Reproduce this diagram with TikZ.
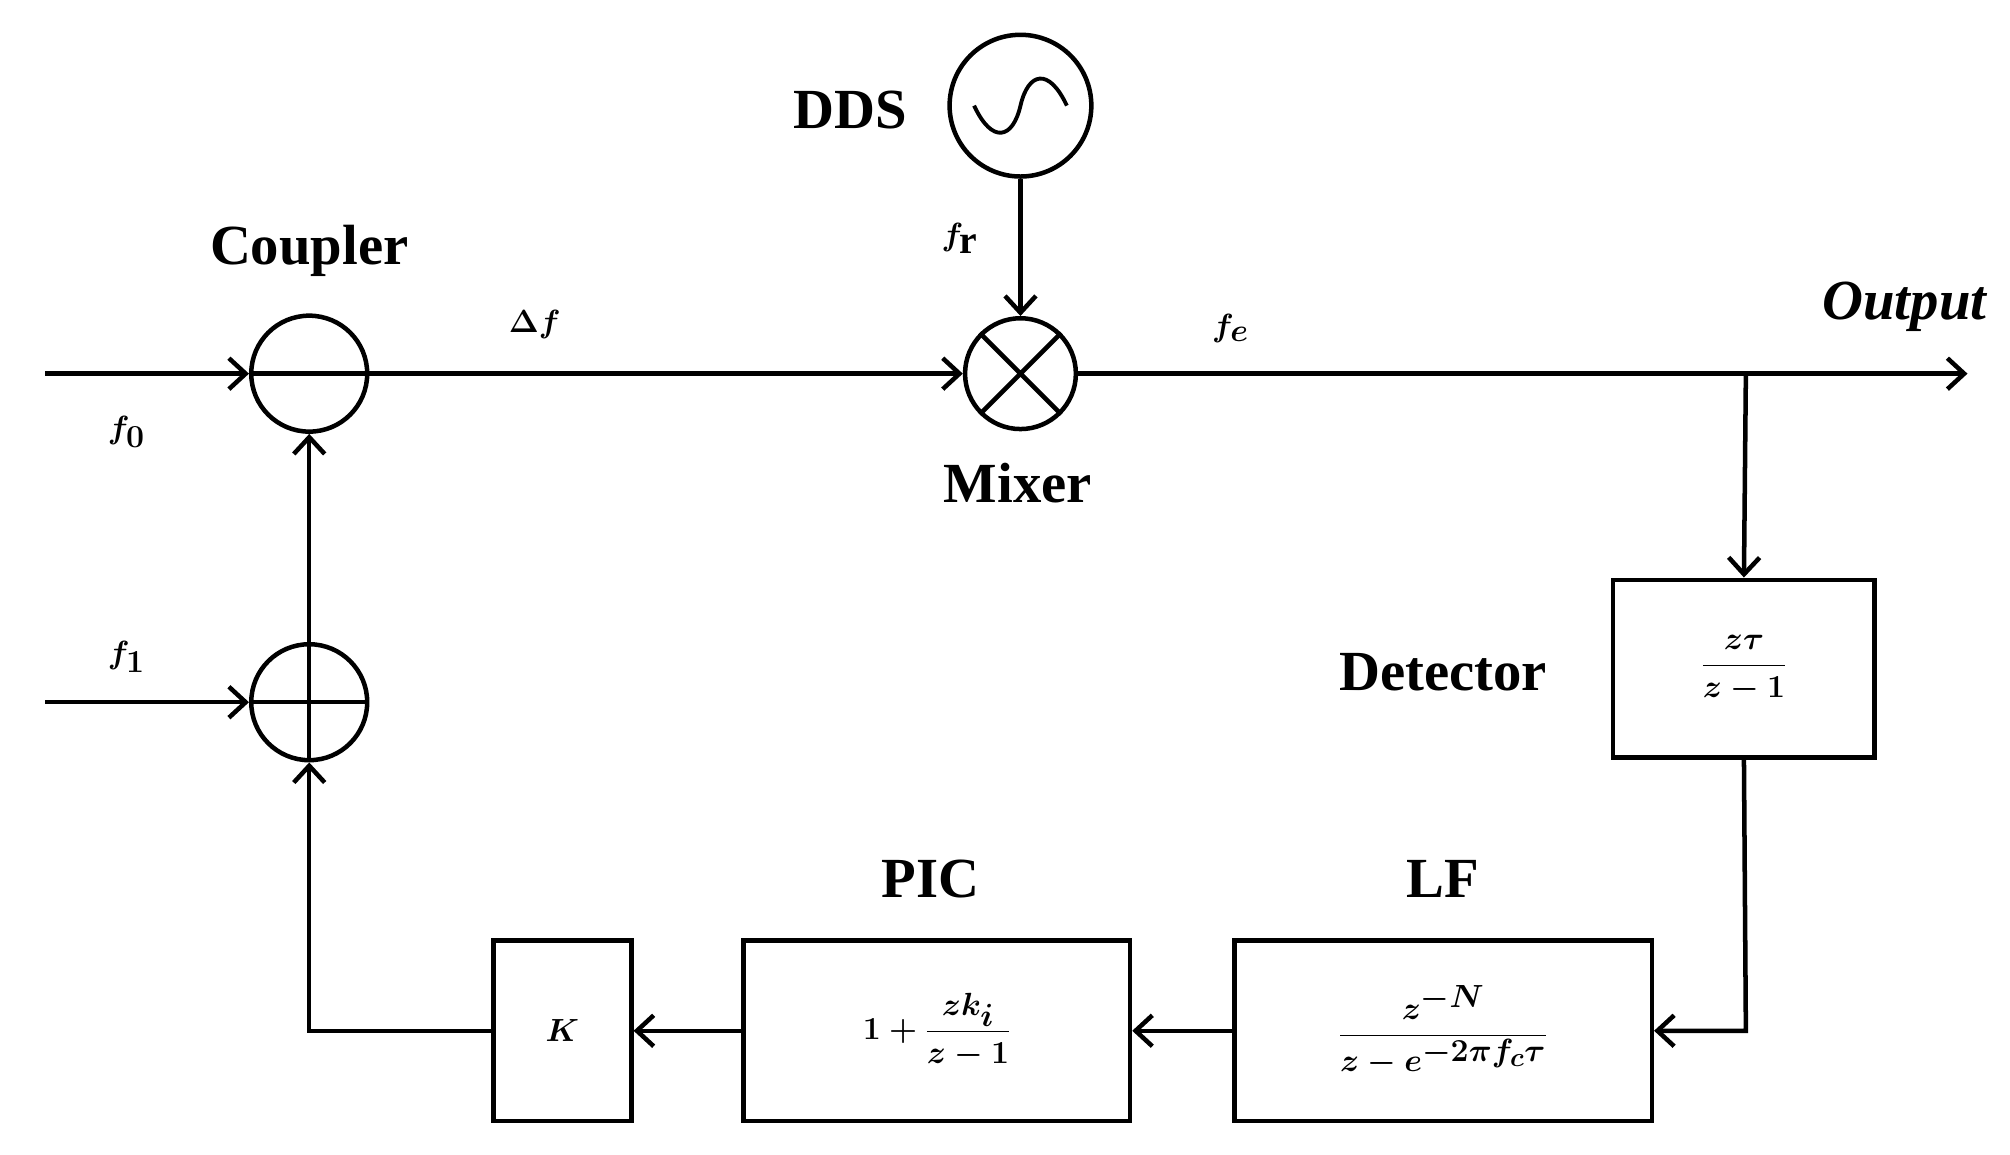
\documentclass[tikz,border=0pt]{standalone}
\usepackage{amsmath,bm}
\usepackage{fontspec}
\setmainfont{Liberation Serif}
\usetikzlibrary{arrows.meta}
\begin{document}
\begin{tikzpicture}[x=1pt,y=-1pt,line width=3.5pt,
  arr/.style={-{Straight Barb[length=13pt,width=24pt,line width=3.5pt]}},
  lab/.style={font=\fontsize{44}{50}\selectfont\bfseries\boldmath, inner sep=0pt},
  circ/.style={draw,circle,minimum size=90pt,inner sep=0pt},
  box/.style={draw,rectangle,inner sep=0pt,font=\fontsize{44}{50}\selectfont\boldmath}]
\useasboundingbox (0,0) rectangle (1560,896);
% nodes
\coordinate (in0) at (35,290);
\coordinate (in1) at (35,545);
\node[circ] (cp) at (240,290) {};
\node[circ] (ad) at (240,545) {};
\node[circ,minimum size=86pt] (mx) at (792,290) {};
\node[circ,minimum size=110pt] (dds) at (792,82) {};
\coordinate (br) at (1355,290);
\coordinate (out) at (1527,290);
\node[box,minimum width=203pt,minimum height=138pt] (det) at (1353.5,519) {$\displaystyle\frac{z\tau}{z-1}$};
\node[box,minimum width=324pt,minimum height=140pt] (lf) at (1120,800) {$\displaystyle\frac{z^{-N}}{z-e^{-2\pi f_c\tau}}$};
\node[box,minimum width=300pt,minimum height=140pt] (pic) at (727,800) {$\displaystyle 1+\frac{zk_i}{z-1}$};
\node[box,minimum width=107pt,minimum height=140pt] (k) at (436.5,800) {$K$};
\coordinate (c1) at (1355,800);
\coordinate (c2) at (240,800);
% symbols inside circles
\draw (cp.west) -- (cp.east);
\draw (ad.west) -- (ad.east) (ad.north) -- (ad.south);
\draw (mx.45) -- (mx.225) (mx.135) -- (mx.315);
\draw[line width=3pt] ([xshift=-36pt]dds.center) .. controls ([xshift=-22pt,yshift=-30pt]dds.center) and ([xshift=-6pt,yshift=-26pt]dds.center) .. (dds.center)
  .. controls ([xshift=6pt,yshift=26pt]dds.center) and ([xshift=22pt,yshift=30pt]dds.center) .. ([xshift=36pt]dds.center);
% connectors
\draw[arr] (in0) -- (cp.west);
\draw[arr] (in1) -- (ad.west);
\draw[arr] (cp.east) -- (mx.west);
\draw[arr] (dds.south) -- (mx.north);
\draw[arr] (mx.east) -- (out);
\draw[arr] (br) -- (det.north);
\draw[arr] (det.south) -- (c1) -- (lf.east);
\draw[arr] (lf.west) -- (pic.east);
\draw[arr] (pic.west) -- (k.east);
\draw[arr] (k.west) -- (c2) -- (ad.south);
\draw[arr] (ad.north) -- (cp.south);
% labels
\node[lab] (l1) at (660,85) {DDS};
\node[lab] (l2) at (240,195) {Coupler};
\node[lab] (l3) at (790,375) {Mixer};
\node[lab] (l4) at (1120,522) {Detector};
\node[lab] (l5) at (1120,682) {LF};
\node[lab] (l6) at (722,682) {PIC};
\node[lab] (l7) at (1478,238) {\itshape Output};
\node[lab] (l8) at (745,185) {$f_{\mathrm{r}}$};
\node[lab] (l9) at (415,252) {$\Delta f$};
\node[lab] (l10) at (955,255) {$f_e$};
\node[lab] (l11) at (98,335) {$f_0$};
\node[lab] (l12) at (98,510) {$f_1$};
\end{tikzpicture}
\end{document}
